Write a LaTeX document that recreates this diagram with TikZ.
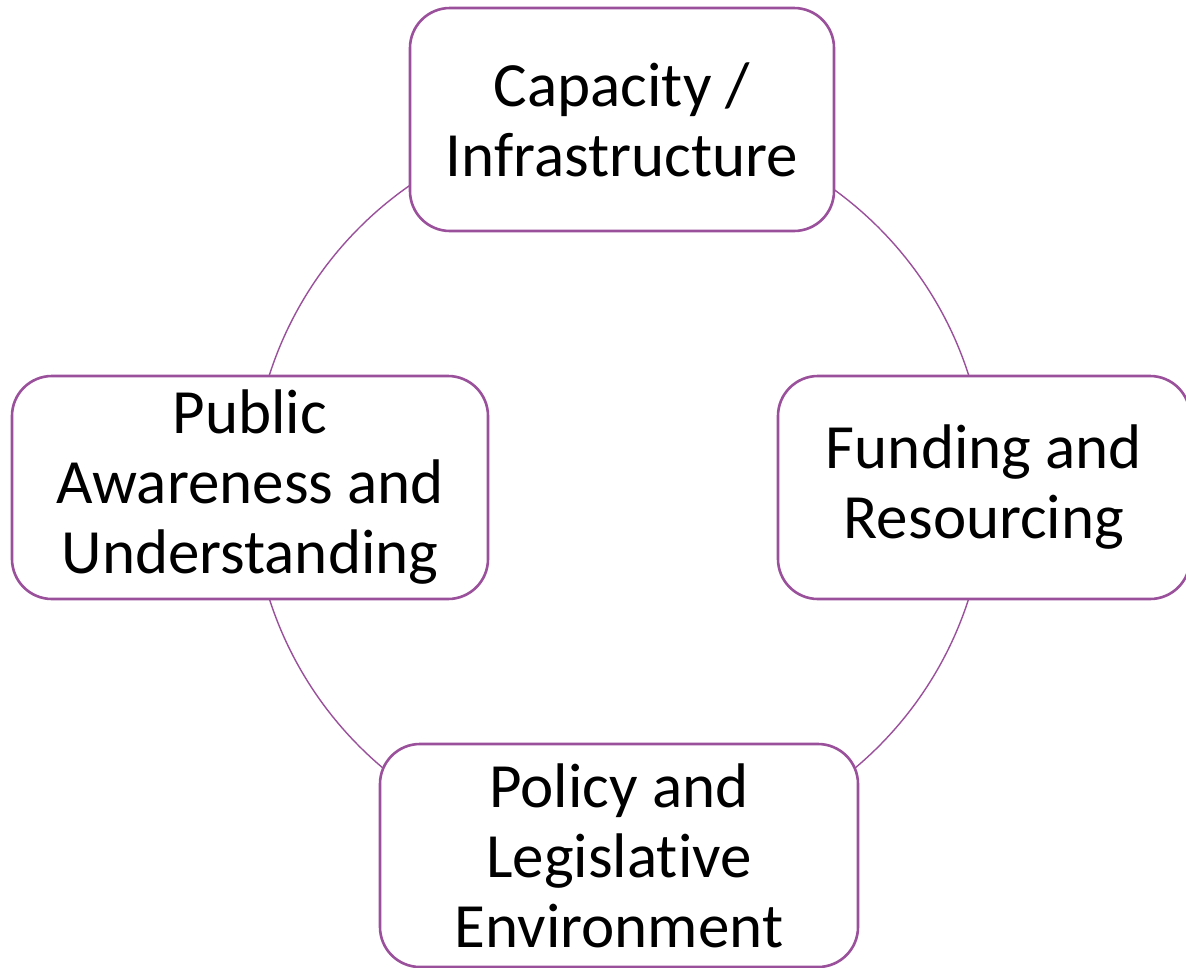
\documentclass[tikz,border=0pt]{standalone}
\usepackage{fontspec}
\setmainfont[Ligatures=NoCommon]{Carlito}
\definecolor{plum}{RGB}{155,80,155}
\begin{document}
\begin{tikzpicture}[x=1pt,y=-1pt,
  box/.style={draw=plum,line width=2.6pt,rounded corners=40pt,fill=white,
    minimum height=223pt,inner sep=0pt,align=center,
    font=\fontsize{63}{70}\selectfont},
  ring/.style={draw=plum,line width=1.4pt,circle,minimum size=734pt,inner sep=0pt}]
\useasboundingbox (0,0) rectangle (1186,967);
\node[ring] (ring) at (619,487) {};
\node[box,minimum width=424pt] (cap) at (622,119.5) {Capacity /\\Infrastructure};
\node[box,minimum width=412pt] (fund) at (984,487.5) {Funding and\\Resourcing};
\node[box,minimum width=478pt] (pol) at (619,855.5) {Policy and\\Legislative\\Environment};
\node[box,minimum width=476pt] (pub) at (250,487.5) {Public\\Awareness and\\Understanding};
\end{tikzpicture}
\end{document}
